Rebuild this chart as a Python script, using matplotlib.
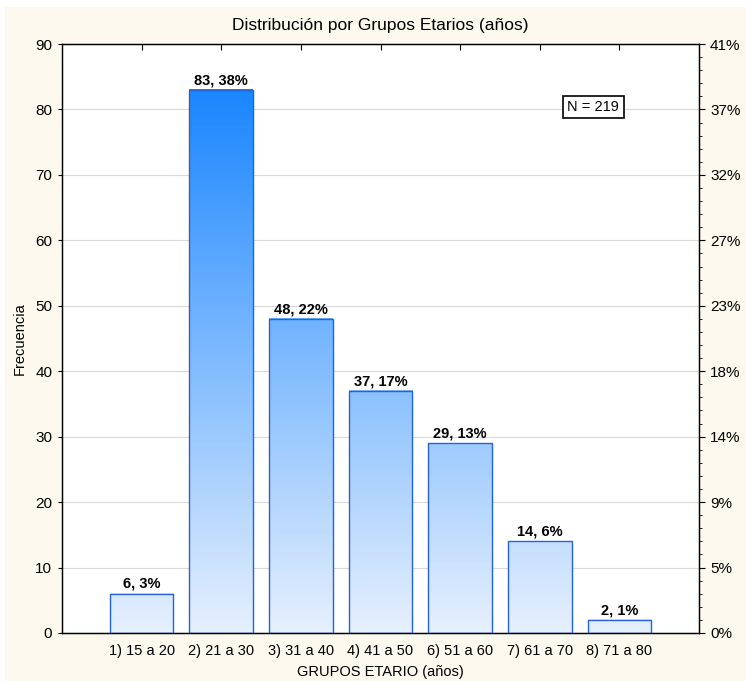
import numpy as np
import matplotlib
matplotlib.use("Agg")
import matplotlib.pyplot as plt
from matplotlib.colors import LinearSegmentedColormap
from matplotlib.patches import Rectangle
from matplotlib.ticker import MultipleLocator

# data
groups = ["1) 15 a 20", "2) 21 a 30", "3) 31 a 40", "4) 41 a 50",
          "6) 51 a 60", "7) 61 a 70", "8) 71 a 80"]
counts = [6, 83, 48, 37, 29, 14, 2]
pcts = [3, 38, 22, 17, 13, 6, 1]
n_total = 219
right_labels = ["0%", "5%", "9%", "14%", "18%", "23%", "27%", "32%", "37%", "41%"]

plt.rcParams["font.family"] = ["Liberation Sans", "DejaVu Sans"]

CREAM = "#fdf9ee"
EDGE = "#2462d6"
cmap = LinearSegmentedColormap.from_list("bar", ["#e6f0fd", "#1a86ff"])

fig = plt.figure(figsize=(7.46, 6.81), dpi=100, facecolor="white")
fig.patches.append(Rectangle((5 / 746, 0), 1, (681 - 7) / 681, transform=fig.transFigure,
                             facecolor=CREAM, edgecolor="none", zorder=-10))
ax = fig.add_axes([62 / 746, 48 / 681, 637 / 746, 589 / 681])
ax.set_facecolor("white")

x = np.arange(1, len(groups) + 1)
width = 0.8

# gradient fill, colour tied to absolute height
for xi, c in zip(x, counts):
    grad = np.linspace(0, c, 256)[:, None]
    ax.imshow(grad, extent=[xi - width / 2, xi + width / 2, 0, c], origin="lower",
              aspect="auto", cmap=cmap, vmin=0, vmax=83, zorder=2, interpolation="bilinear")
ax.bar(x, counts, width=width, fill=False, edgecolor=EDGE, linewidth=1.0, zorder=3)
ax.set_xlim(0, 8)
ax.set_ylim(0, 90)

for xi, c, p in zip(x, counts, pcts):
    ax.annotate(f"{c}, {p}%", (xi, c), xytext=(0, 2), textcoords="offset points",
                ha="center", va="bottom", fontsize=10.5, fontweight="bold", zorder=5)

ax.yaxis.set_major_locator(MultipleLocator(10))
ax.grid(axis="y", color="#d9d9d9", linewidth=0.8, zorder=0)
ax.set_axisbelow(True)

ax.set_xticks(x)
ax.set_xticklabels(groups, fontsize=10.5)
ax.tick_params(axis="x", direction="in", length=4, top=True, pad=8)
ax.tick_params(axis="y", direction="out", length=3, labelsize=11, pad=4)

ax.set_xlabel("GRUPOS ETARIO (años)", fontsize=10.5, labelpad=5)
ax.set_ylabel("Frecuencia", fontsize=10.5, labelpad=6)
ax.set_title("Distribución por Grupos Etarios (años)", fontsize=12.5, pad=10)

for s in ax.spines.values():
    s.set_linewidth(1.0)

# right axis in percentages
ax2 = ax.twinx()
ax2.set_ylim(0, 90)
ax2.set_yticks(np.arange(0, 91, 10))
ax2.set_yticklabels(right_labels)
ax2.yaxis.set_minor_locator(MultipleLocator(2))
ax2.tick_params(axis="y", which="major", direction="out", length=4, labelsize=11, pad=4)
ax2.tick_params(axis="y", which="minor", direction="out", length=2)

ax.text(0.834, 0.893, f"N = {n_total}", transform=ax.transAxes, ha="center", va="center",
        fontsize=10.5, zorder=6,
        bbox=dict(boxstyle="square,pad=0.3", facecolor="white", edgecolor="black", linewidth=1.2))

fig.savefig("out.png", dpi=100, facecolor=fig.get_facecolor())
